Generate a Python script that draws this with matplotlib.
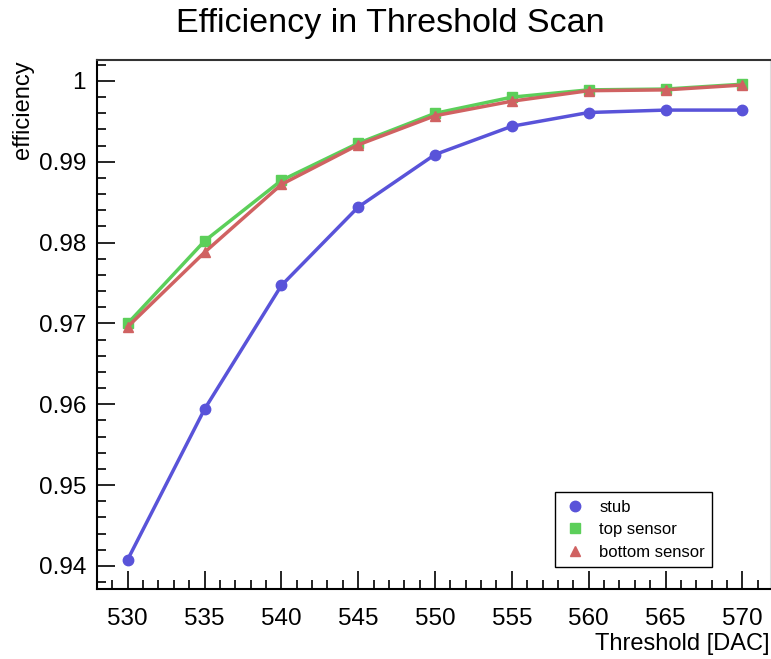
import matplotlib
matplotlib.use("Agg")
import matplotlib.pyplot as plt
from matplotlib.ticker import MultipleLocator

plt.rcParams["font.family"] = ["Liberation Sans", "DejaVu Sans"]

# threshold scan results
threshold = [530, 535, 540, 545, 550, 555, 560, 565, 570]
eff_stub = [0.9408, 0.9594, 0.9747, 0.9844, 0.9909, 0.9944, 0.9961, 0.9964, 0.9964]
eff_top = [0.9700, 0.9802, 0.9877, 0.9923, 0.9960, 0.9980, 0.9989, 0.9990, 0.9996]
eff_bottom = [0.9696, 0.9788, 0.9872, 0.9921, 0.9957, 0.9975, 0.9988, 0.9989, 0.9995]

c_stub = "#5953d9"
c_top = "#5ccf5a"
c_bottom = "#d06262"

fig = plt.figure(figsize=(7.71, 6.59), dpi=100)
ax = fig.add_axes([0.1258, 0.1062, 0.8729, 0.8028])

ax.plot(threshold, eff_stub, color=c_stub, lw=2.5, marker="o", ms=7.5, label="stub")
ax.plot(threshold, eff_top, color=c_top, lw=2.5, marker="s", ms=7.5, label="top sensor")
ax.plot(threshold, eff_bottom, color=c_bottom, lw=2.5, marker="^", ms=7.5, label="bottom sensor")

ax.set_xlim(528.0, 571.8)
ax.set_ylim(0.93715, 1.0026)

ax.xaxis.set_major_locator(MultipleLocator(5))
ax.xaxis.set_minor_locator(MultipleLocator(1))
ax.yaxis.set_major_locator(MultipleLocator(0.01))
ax.yaxis.set_minor_locator(MultipleLocator(0.002))
ax.yaxis.set_major_formatter(plt.FuncFormatter(lambda v, p: f"{v:.2f}".rstrip("0").rstrip(".")))

ax.tick_params(which="both", direction="in", top=False, right=False, labelsize=17.5, width=1.2)
ax.tick_params(axis="x", which="major", length=13, pad=14)
ax.tick_params(axis="x", which="minor", length=6.5)
ax.tick_params(axis="y", which="major", length=13, pad=8)
ax.tick_params(axis="y", which="minor", length=6.5)

for side in ["left", "bottom"]:
    ax.spines[side].set_linewidth(1.5)
ax.spines["top"].set_linewidth(1.5)
ax.spines["top"].set_color("#333333")
ax.spines["right"].set_color("#dddddd")

ax.set_xlabel("Threshold [DAC]", fontsize=17, loc="right")
ax.xaxis.set_label_coords(1.0, -0.083)
ax.set_ylabel("efficiency", fontsize=17, loc="top")
ax.yaxis.set_label_coords(-0.094, 1.0)

fig.text(0.506, 0.965, "Efficiency in Threshold Scan", fontsize=24.5, ha="center", va="center")

leg = ax.legend(loc="lower left", bbox_to_anchor=(0.6805, 0.0416), borderaxespad=0,
                fontsize=12, fancybox=False, framealpha=1, edgecolor="black",
                labelspacing=0.45, handlelength=1.5, handletextpad=0.7, borderpad=0.45)
leg.get_frame().set_linewidth(1.0)
# show markers only in the legend
for h in leg.legend_handles:
    h.set_linestyle("none")

fig.savefig("out.png", dpi=100)
